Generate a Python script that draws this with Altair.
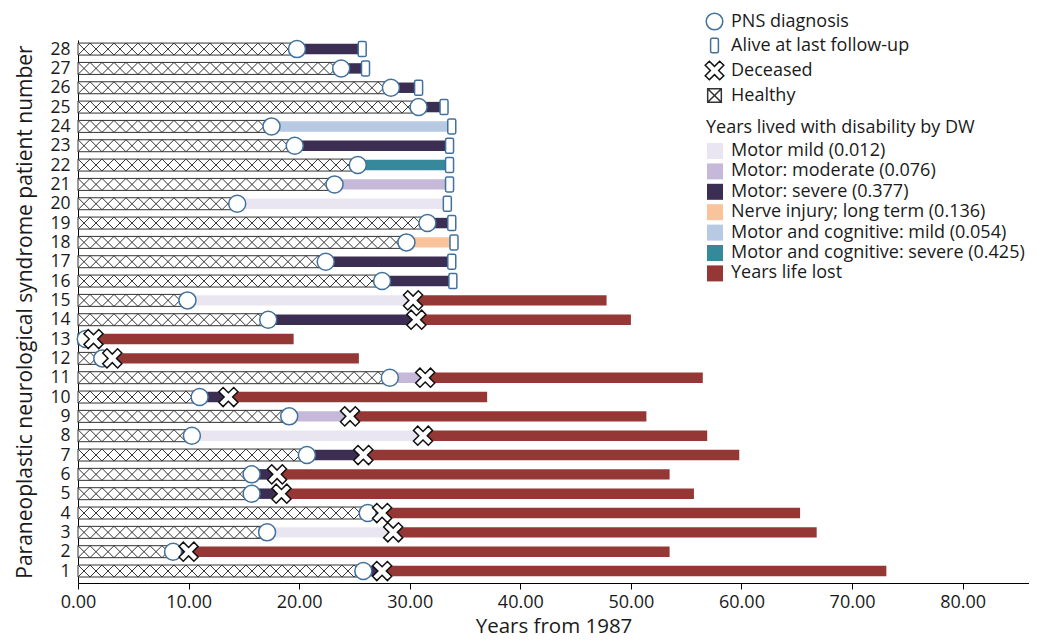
import math
import altair as alt
import pandas as pd

# ---------------- data ----------------
patients = list(range(1, 29))
diagnosis = [25.8, 8.6, 17.1, 26.2, 15.7, 15.7, 20.7, 10.3, 19.1, 11.0,
             28.2, 2.2, 0.7, 17.2, 9.9, 27.5, 22.4, 29.7, 31.6, 14.4,
             23.2, 25.3, 19.6, 17.5, 30.8, 28.3, 23.8, 19.8]
end_time = [27.5, 10.0, 28.5, 27.5, 18.4, 18.0, 25.8, 31.2, 24.6, 13.6,
            31.4, 3.1, 1.4, 30.6, 30.3, 33.9, 33.8, 34.0, 33.8, 33.4,
            33.6, 33.6, 33.6, 33.8, 33.1, 30.8, 26.0, 25.7]
deceased = [True] * 15 + [False] * 13
yll_end = [73.1, 53.5, 66.8, 65.3, 55.7, 53.5, 59.8, 56.9, 51.4, 37.0,
           56.5, 25.4, 19.5, 50.0, 47.8]

MILD = "Motor mild (0.012)"
MOD = "Motor: moderate (0.076)"
SEV = "Motor: severe (0.377)"
NERVE = "Nerve injury; long term (0.136)"
MCM = "Motor and cognitive: mild (0.054)"
MCS = "Motor and cognitive: severe (0.425)"
YLL = "Years life lost"

disability = [SEV, SEV, MILD, SEV, SEV, SEV, SEV, MILD, MOD, SEV,
              MOD, SEV, SEV, SEV, MILD, SEV, SEV, NERVE, SEV, MILD,
              MOD, MCS, SEV, MCM, SEV, SEV, SEV, SEV]

state_domain = [MILD, MOD, SEV, NERVE, MCM, MCS, YLL]
state_colors = ["#EAE6F1", "#C6B8D9", "#3C2D52", "#F9C49B", "#B7C9E3", "#36899B", "#953735"]

marker_domain = ["PNS diagnosis", "Alive at last follow-up", "Deceased", "Healthy"]
marker_strokes = ["#41719C", "#41719C", "#111111", "#333333"]

# ---------------- shapes ----------------
circle_path = "M0.85,0A0.85,0.85,0,1,1,-0.85,0A0.85,0.85,0,1,1,0.85,0Z"
alive_path = ("M-0.24,-0.75L0.24,-0.75Q0.4,-0.75,0.4,-0.59L0.4,0.59Q0.4,0.75,0.24,0.75"
              "L-0.24,0.75Q-0.4,0.75,-0.4,0.59L-0.4,-0.59Q-0.4,-0.75,-0.24,-0.75Z")
w, l = 0.3, 1.05
plus = [(w, -l), (w, -w), (l, -w), (l, w), (w, w), (w, l), (-w, l), (-w, w),
        (-l, w), (-l, -w), (-w, -w), (-w, -l)]
rot = [((x - y) / math.sqrt(2), (x + y) / math.sqrt(2)) for x, y in plus]
cross_path = "M" + "L".join(f"{x:.3f},{y:.3f}" for x, y in rot) + "Z"
healthy_path = "M-0.7,-0.7L0.7,-0.7L0.7,0.7L-0.7,0.7ZM-0.7,-0.7L0.7,0.7M0.7,-0.7L-0.7,0.7"
marker_shapes = [circle_path, alive_path, cross_path, healthy_path]

# ---------------- tables ----------------
HH = 0.31   # half height of healthy bar (patient units)
HD = 0.27   # half height of coloured bars

healthy_df = pd.DataFrame({
    "patient": patients,
    "x": [0.0] * 28, "x2": diagnosis,
    "ylo": [p - HH for p in patients], "yhi": [p + HH for p in patients],
})

period = 1.085
hatch_rows = []
for p, d in zip(patients, diagnosis):
    top, bot = p + HH, p - HH
    k = 0.0
    while k < d - 1e-9:
        xe = min(k + period, d)
        t = (xe - k) / period
        hatch_rows.append({"x": k, "x2": xe, "y": top, "y2": top + t * (bot - top)})
        hatch_rows.append({"x": k, "x2": xe, "y": bot, "y2": bot + t * (top - bot)})
        k += period
hatch_df = pd.DataFrame(hatch_rows)

dis_df = pd.DataFrame({
    "patient": patients, "x": diagnosis, "x2": end_time,
    "ylo": [p - HD for p in patients], "yhi": [p + HD for p in patients],
    "state": disability,
})
yll_df = pd.DataFrame({
    "patient": patients[:15], "x": end_time[:15], "x2": yll_end,
    "ylo": [p - HD for p in patients[:15]], "yhi": [p + HD for p in patients[:15]],
    "state": [YLL] * 15,
})
bars_df = pd.concat([dis_df, yll_df], ignore_index=True)

pts = []
for p, d in zip(patients, diagnosis):
    pts.append({"x": d, "patient": p, "marker": "PNS diagnosis", "order": 0})
for p, e, dec in zip(patients, end_time, deceased):
    if not dec:
        pts.append({"x": e, "patient": p, "marker": "Alive at last follow-up", "order": 1})
for p, e, dec in zip(patients, end_time, deceased):
    if dec:
        pts.append({"x": e, "patient": p, "marker": "Deceased", "order": 2})
pts_df = pd.DataFrame(pts)

# ---------------- scales / axes ----------------
FONT = "Open Sans"
xscale = alt.Scale(domain=[0, 86], nice=False, zero=False)
yscale = alt.Scale(domain=[0.38, 28.47], nice=False, zero=False)

xaxis = alt.Axis(values=[0, 10, 20, 30, 40, 50, 60, 70, 80], format=".2f",
                 title="Years from 1987", grid=False, tickSize=6,
                 tickColor="#000", domainColor="#000", labelFontSize=18,
                 labelColor="#1a1a1a", titleFontSize=20.5, titleFontWeight="normal",
                 titleColor="#1a1a1a", labelPadding=4, titlePadding=5,
                 labelOverlap=False, labelFlush=False)
yaxis = alt.Axis(values=patients, format="d",
                 title="Paraneoplastic neurological syndrome patient number",
                 grid=False, ticks=False, domainColor="#000", labelFontSize=17.5,
                 labelColor="#1a1a1a", labelPadding=8, titleFontSize=21,
                 titleFontWeight="normal", titleColor="#1a1a1a", titlePadding=14,
                 labelOverlap=False, labelBound=False, labelFlush=False,
                 labelSeparation=0)

X = lambda f: alt.X(f, scale=xscale, axis=xaxis)
Y = lambda f: alt.Y(f, scale=yscale, axis=yaxis)

healthy = alt.Chart(healthy_df).mark_rect(fill="white", stroke="#333", strokeWidth=1).encode(
    x=X("x:Q"), x2="x2:Q", y=Y("ylo:Q"), y2="yhi:Q",
)

hatch = alt.Chart(hatch_df).mark_rule(stroke="#333", strokeWidth=1).encode(
    x=X("x:Q"), x2="x2:Q", y=Y("y:Q"), y2="y2:Q",
)

color_legend = alt.Legend(
    title="Years lived with disability by DW", orient="none", legendX=628, legendY=79,
    symbolType="square", symbolSize=256, symbolStrokeWidth=0,
    titleFontSize=18, titleFontWeight="normal", titleColor="#1a1a1a", titleFont=FONT,
    labelFontSize=18, labelColor="#1a1a1a", labelFont=FONT,
    rowPadding=2.4, labelOffset=7, titlePadding=5, labelLimit=400, titleLimit=400,
)

bars = alt.Chart(bars_df).mark_rect().encode(
    x=X("x:Q"), x2="x2:Q", y=Y("ylo:Q"), y2="yhi:Q",
    color=alt.Color("state:N", scale=alt.Scale(domain=state_domain, range=state_colors),
                    legend=color_legend),
)

shape_legend = alt.Legend(
    title=None, orient="none", legendX=626, legendY=-29,
    symbolSize=380, symbolStrokeWidth=1.5, symbolFillColor="white",
    labelFontSize=18, labelColor="#1a1a1a", labelFont=FONT,
    rowPadding=2, labelOffset=6, labelLimit=400,
)

points = alt.Chart(pts_df).mark_point(filled=True, size=400, strokeWidth=1.5, opacity=1).encode(
    x=X("x:Q"),
    y=Y("patient:Q"),
    shape=alt.Shape("marker:N", scale=alt.Scale(domain=marker_domain, range=marker_shapes),
                    legend=shape_legend),
    stroke=alt.Stroke("marker:N", scale=alt.Scale(domain=marker_domain, range=marker_strokes),
                      legend=shape_legend),
    fill=alt.value("white"),
    order="order:Q",
)

chart = alt.layer(healthy, hatch, bars, points).properties(
    width=951, height=543,
    autosize=alt.AutoSizeParams(type="none"),
    padding={"left": 70, "top": 32, "right": 0, "bottom": 56},
).configure(font=FONT).configure_view(stroke=None).configure_axis(
    labelOverlap=False
)

chart.save("out.html", embed_options={"renderer": "svg", "actions": False})
